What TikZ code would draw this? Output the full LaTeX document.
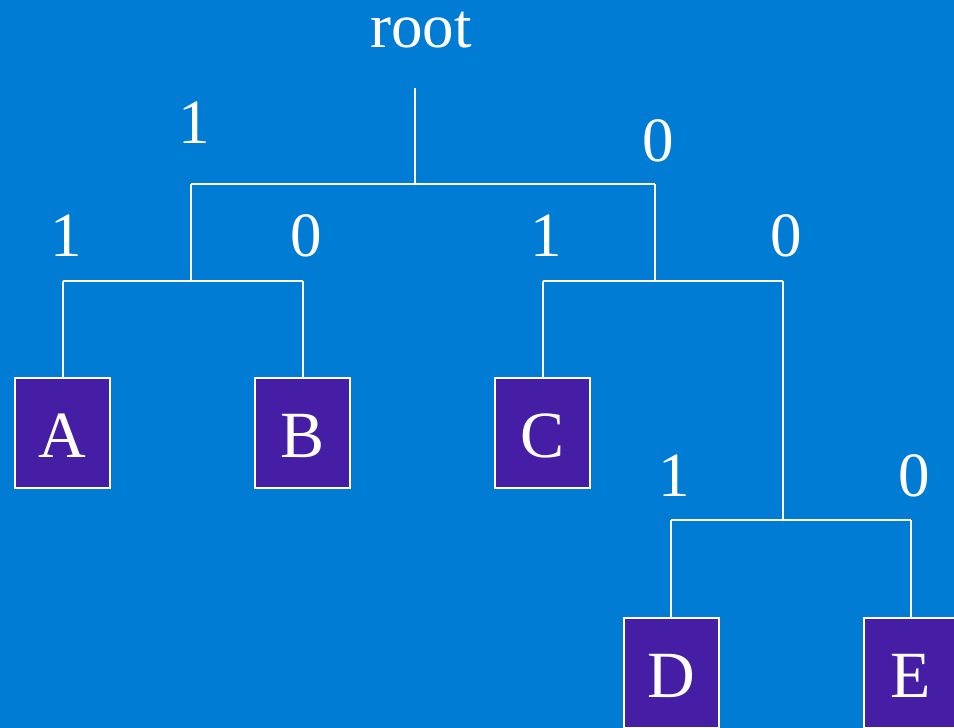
\documentclass[tikz,border=0pt]{standalone}
\usepackage{fontspec}
\setmainfont{Liberation Serif}
\definecolor{bg}{RGB}{0,124,213}
\definecolor{leaf}{RGB}{70,30,166}
\begin{document}
\begin{tikzpicture}[x=1pt,y=-1pt,
  edge/.style={draw=white,line width=2pt},
  leafbox/.style={draw=white,line width=2pt,fill=leaf,minimum width=95pt,minimum height=110pt,inner sep=0pt,text=white,font=\fontsize{66}{66}\selectfont},
  bit/.style={text=white,inner sep=0pt,anchor=base,font=\fontsize{63}{63}\selectfont},
  lettr/.style={text=white,anchor=base,inner sep=0pt,font=\fontsize{66}{66}\selectfont}]
\useasboundingbox (0,0) rectangle (954,728);
\clip (0,0) rectangle (954,728);
\fill[bg] (0,0) rectangle (954,728);
% root label
\node[bit,text height=38pt] (rootlbl) at (421,47) {root};
% junction coordinates
\coordinate (r) at (415,88);
\coordinate (n0) at (415,184);
\coordinate (nL) at (191,184);
\coordinate (nR) at (655,184);
\coordinate (nL2) at (191,281);
\coordinate (nLa) at (63,281);
\coordinate (nLb) at (303,281);
\coordinate (nR2) at (655,281);
\coordinate (nRc) at (543,281);
\coordinate (nRd) at (783,281);
\coordinate (nD0) at (783,520);
\coordinate (nDl) at (671,520);
\coordinate (nDr) at (911,520);
% leaves
\node[leafbox] (A) at (62.5,433) {};
\node[leafbox] (B) at (302.5,433) {};
\node[leafbox] (C) at (542.5,433) {};
\node[leafbox] (D) at (671,673) {};
\node[leafbox] (E) at (911,673) {};
\node[lettr] (At) at (62.5,457) {A};
\node[lettr] (Bt) at (302.5,457) {B};
\node[lettr] (Ct) at (542.5,457) {C};
\node[lettr] (Dt) at (671,697) {D};
\node[lettr] (Et) at (911,697) {E};
% connectors
\draw[edge] (r) -- (n0);
\draw[edge] (nL) -- (nR);
\draw[edge] (nL) -- (nL2);
\draw[edge] (nLa) -- (nLb);
\draw[edge] (nLa) -- (A.north -| nLa);
\draw[edge] (nLb) -- (B.north -| nLb);
\draw[edge] (nR) -- (nR2);
\draw[edge] (nRc) -- (nRd);
\draw[edge] (nRc) -- (C.north -| nRc);
\draw[edge] (nRd) -- (nD0);
\draw[edge] (nDl) -- (nDr);
\draw[edge] (nDl) -- (D.north -| nDl);
\draw[edge] (nDr) -- (E.north -| nDr);
% bit labels
\node[bit] (b1) at (194,143) {1};
\node[bit] (b2) at (658,161) {0};
\node[bit] (b3) at (66,256) {1};
\node[bit] (b4) at (306,256) {0};
\node[bit] (b5) at (546,256) {1};
\node[bit] (b6) at (786,256) {0};
\node[bit] (b7) at (674,496) {1};
\node[bit] (b8) at (914,496) {0};
\end{tikzpicture}
\end{document}
